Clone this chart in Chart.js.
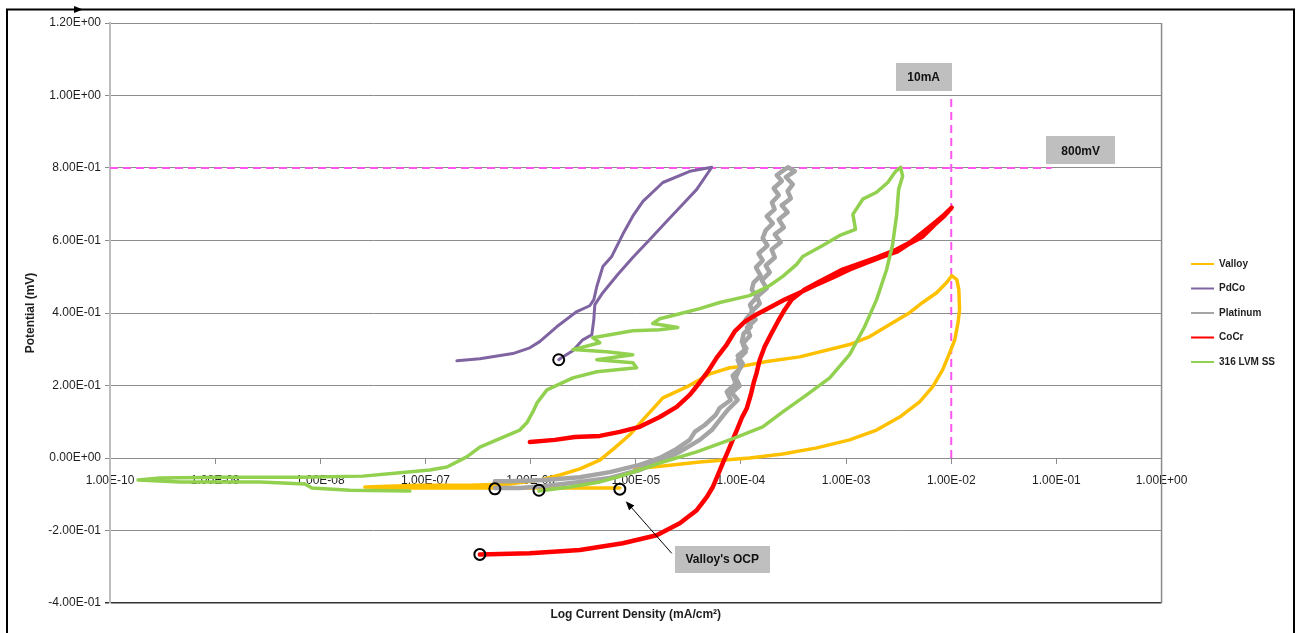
<!DOCTYPE html>
<html>
<head>
<meta charset="utf-8">
<script src="https://cdn.jsdelivr.net/npm/chart.js@4.4.1/dist/chart.umd.min.js"></script>
<style>
  html, body { margin: 0; padding: 0; background: #fff; }
  #wrap { width: 1300px; height: 633px; position: relative; }
</style>
</head>
<body>
<div id="wrap"><canvas id="c" width="1300" height="633"></canvas></div>
<script>
// ---- Series names and tick labels ----
const seriesNames = ['Valloy', 'PdCo', 'Platinum', 'CoCr', '316 LVM SS'];
const xTickValues = [1e-10, 1e-9, 1e-8, 1e-7, 1e-6, 1e-5, 1e-4, 1e-3, 1e-2, 1e-1, 1];
const xTickLabels = ['1.00E-10', '1.00E-09', '1.00E-08', '1.00E-07', '1.00E-06', '1.00E-05',
                     '1.00E-04', '1.00E-03', '1.00E-02', '1.00E-01', '1.00E+00'];
const yTickLabels = ['-4.00E-01', '-2.00E-01', '0.00E+00', '2.00E-01', '4.00E-01',
                     '6.00E-01', '8.00E-01', '1.00E+00', '1.20E+00'];

// ---- Polarization scans: current density (mA/cm2) and potential ----
const valloyCurrent = [7.05e-6, 1.90e-6, 5.1e-7, 1.37e-7, 5.7e-8, 2.65e-8, 8.85e-8, 2.64e-7, 6.34e-7, 1.22e-6,
  1.90e-6, 2.94e-6, 4.55e-6, 6.31e-6, 8.77e-6, 1.17e-5, 1.81e-5, 3.05e-5, 5.05e-5, 7.83e-5,
  9.74e-5, 1.76e-4, 3.62e-4, 1.08e-3, 1.68e-3, 2.77e-3, 4.02e-3, 5.35e-3, 7.26e-3, 9.04e-3,
  1.01e-2, 1.13e-2, 1.18e-2, 1.20e-2, 1.16e-2, 1.08e-2, 9.66e-3, 8.28e-3, 6.65e-3, 5.0e-3,
  3.23e-3, 1.95e-3, 1.08e-3, 5.25e-4, 2.50e-4, 1.21e-4, 4.06e-5, 1.81e-5, 9.78e-6];
const valloyPotential = [-0.083, -0.083, -0.083, -0.083, -0.083, -0.080, -0.075, -0.075, -0.072, -0.061,
  -0.047, -0.030, -0.006, 0.028, 0.064, 0.105, 0.166, 0.196, 0.232, 0.249,
  0.252, 0.266, 0.279, 0.313, 0.335, 0.373, 0.401, 0.429, 0.456, 0.484,
  0.503, 0.492, 0.465, 0.409, 0.373, 0.326, 0.290, 0.243, 0.196, 0.155,
  0.113, 0.077, 0.050, 0.028, 0.011, 0.000, -0.011, -0.022, -0.030];

const pdcoCurrent = [1.85e-6, 1.98e-6, 2.52e-6, 3.13e-6, 3.82e-6, 3.99e-6, 4.08e-6, 4.86e-6, 6.74e-6, 9.36e-6,
  1.36e-5, 1.97e-5, 2.80e-5, 3.80e-5, 5.28e-5, 3.26e-5, 1.81e-5, 1.17e-5, 9.36e-6, 7.52e-6,
  5.91e-6, 4.86e-6, 4.26e-6, 3.99e-6, 3.65e-6, 2.75e-6, 1.77e-6, 1.22e-6, 9.83e-7, 6.77e-7,
  3.29e-7, 1.99e-7];
const pdcoPotential = [0.271, 0.277, 0.296, 0.326, 0.340, 0.382, 0.423, 0.456, 0.506, 0.553,
  0.603, 0.653, 0.700, 0.741, 0.802, 0.791, 0.760, 0.708, 0.667, 0.617,
  0.556, 0.528, 0.473, 0.437, 0.420, 0.404, 0.362, 0.321, 0.304, 0.288,
  0.274, 0.268];

const platinumCurrent = [4.57e-7, 7.89e-7, 1.36e-6, 2.94e-6, 5.66e-6, 1.09e-5, 1.69e-5, 2.62e-5, 4.06e-5, 5.28e-5,
  6.29e-5, 7.49e-5,
  9.32e-5, 8.18e-5, 9.74e-5, 8.93e-5, 9.53e-5, 1.04e-4, 9.32e-5, 1.13e-4, 1.02e-4, 1.06e-4,
  1.24e-4, 1.11e-4, 1.29e-4, 1.22e-4, 1.41e-4, 1.27e-4, 1.32e-4, 1.54e-4, 1.39e-4, 1.61e-4,
  1.47e-4, 1.79e-4, 1.61e-4, 1.72e-4, 2.01e-4, 1.76e-4, 2.09e-4, 1.97e-4, 2.29e-4, 2.05e-4,
  2.45e-4, 2.19e-4, 2.55e-4, 2.80e-4,
  2.78e-4, 3.25e-4, 2.67e-4, 3.11e-4, 2.78e-4, 2.98e-4, 2.44e-4, 2.78e-4, 2.29e-4, 2.56e-4,
  2.10e-4, 2.39e-4, 1.96e-4, 2.10e-4, 1.72e-4, 1.88e-4, 1.58e-4, 1.76e-4, 1.42e-4, 1.51e-4,
  1.26e-4, 1.38e-4, 1.14e-4, 1.22e-4, 1.04e-4, 1.11e-4, 9.32e-5, 9.95e-5, 8.35e-5, 8.92e-5,
  7.33e-5, 8.00e-5, 6.29e-5, 5.76e-5,
  4.53e-5, 3.64e-5, 3.26e-5, 2.35e-5, 1.69e-5, 1.09e-5, 5.66e-6, 2.94e-6, 1.36e-6, 6.34e-7,
  4.57e-7];
const platinumPotential = [-0.083, -0.083, -0.077, -0.066, -0.055, -0.033, -0.011, 0.017, 0.050, 0.077,
  0.105, 0.133,
  0.160, 0.180, 0.199, 0.221, 0.241, 0.260, 0.282, 0.302, 0.321, 0.343,
  0.362, 0.382, 0.404, 0.423, 0.443, 0.465, 0.484, 0.503, 0.526, 0.545,
  0.564, 0.586, 0.606, 0.628, 0.647, 0.667, 0.686, 0.705, 0.725, 0.744,
  0.764, 0.780, 0.794, 0.802,
  0.802, 0.791, 0.775, 0.755, 0.736, 0.716, 0.697, 0.678, 0.658, 0.636,
  0.617, 0.595, 0.575, 0.553, 0.531, 0.512, 0.490, 0.468, 0.445, 0.426,
  0.404, 0.382, 0.360, 0.337, 0.315, 0.293, 0.271, 0.249, 0.227, 0.205,
  0.183, 0.160, 0.138, 0.119,
  0.091, 0.072, 0.050, 0.022, 0.000, -0.019, -0.039, -0.053, -0.061, -0.064,
  -0.064];

const cocrCurrent = [3.29e-7, 9.83e-7, 2.94e-6, 7.52e-6, 1.58e-5, 2.62e-5, 3.80e-5, 4.73e-5, 5.40e-5, 6.03e-5,
  6.72e-5, 7.49e-5, 8.35e-5, 9.33e-5, 1.02e-4, 1.14e-4, 1.24e-4, 1.32e-4, 1.41e-4, 1.51e-4,
  1.68e-4, 1.92e-4, 2.24e-4, 2.61e-4, 3.04e-4, 4.04e-4, 5.61e-4, 9.29e-4, 1.95e-3, 3.03e-3,
  4.02e-3, 5.35e-3, 7.26e-3, 8.66e-3, 1.01e-2,
  8.66e-3, 6.95e-3, 5.35e-3, 4.02e-3, 3.03e-3, 2.09e-3, 1.57e-3, 1.08e-3, 7.46e-4, 5.03e-4,
  3.62e-4, 2.61e-4, 1.88e-4, 1.35e-4, 1.09e-4, 8.73e-5, 7.33e-5, 5.89e-5, 4.84e-5, 3.89e-5,
  3.26e-5, 2.45e-5, 1.69e-5, 1.09e-5, 7.05e-6, 4.55e-6, 2.63e-6, 1.70e-6, 9.83e-7];
const cocrPotential = [-0.266, -0.263, -0.254, -0.235, -0.213, -0.180, -0.144, -0.108, -0.080, -0.047,
  -0.014, 0.017, 0.050, 0.083, 0.111, 0.138, 0.174, 0.207, 0.235, 0.271,
  0.307, 0.340, 0.376, 0.409, 0.437, 0.465, 0.487, 0.520, 0.553, 0.575,
  0.594, 0.622, 0.653, 0.672, 0.691,
  0.669, 0.644, 0.611, 0.592, 0.569, 0.553, 0.539, 0.520, 0.498, 0.476,
  0.456, 0.437, 0.415, 0.393, 0.376, 0.349, 0.313, 0.277, 0.238, 0.202,
  0.174, 0.141, 0.113, 0.086, 0.072, 0.061, 0.058, 0.050, 0.044];

const lvmCurrent = [1.20e-6, 2.36e-6, 4.55e-6, 6.59e-6, 1.09e-5, 1.81e-5, 3.80e-5, 7.83e-5, 1.61e-4, 2.50e-4,
  4.22e-4, 6.99e-4, 1.08e-3, 1.50e-3, 1.95e-3, 2.43e-3, 2.77e-3, 3.03e-3, 3.16e-3, 3.45e-3, 3.30e-3,
  2.96e-3, 2.49e-3, 1.95e-3, 1.44e-3, 1.16e-3, 1.23e-3, 8.70e-4, 5.99e-4, 3.87e-4, 3.39e-4,
  2.50e-4, 1.88e-4, 1.21e-4, 6.29e-5, 4.06e-5, 2.62e-5, 1.69e-5, 1.45e-5, 2.51e-5, 1.69e-5,
  9.36e-6, 5.66e-6, 3.90e-6, 4.55e-6, 2.52e-6, 5.30e-6, 9.36e-6, 4.26e-6, 9.36e-6, 1.02e-5,
  4.26e-6, 2.52e-6, 1.43e-6, 1.15e-6, 1.05e-6, 9.2e-7, 7.89e-7, 4.77e-7, 3.29e-7, 2.47e-7,
  1.60e-7, 1.10e-7, 5.71e-8, 2.54e-8, 6.40e-9, 1.11e-9, 2.99e-10, 1.85e-10, 4.63e-10, 2.67e-9,
  7.14e-9, 8.32e-9, 1.91e-8, 7.11e-8];
const lvmPotential = [-0.091, -0.080, -0.066, -0.053, -0.033, -0.011, 0.017, 0.050, 0.086, 0.127,
  0.174, 0.221, 0.285, 0.362, 0.437, 0.520, 0.589, 0.672, 0.741, 0.777, 0.802,
  0.791, 0.760, 0.733, 0.714, 0.672, 0.631, 0.614, 0.586, 0.556, 0.534,
  0.501, 0.476, 0.448, 0.429, 0.412, 0.398, 0.384, 0.371, 0.360, 0.354,
  0.351, 0.340, 0.332, 0.318, 0.299, 0.293, 0.285, 0.271, 0.263, 0.249,
  0.238, 0.221, 0.188, 0.152, 0.127, 0.097, 0.077, 0.050, 0.030, 0.003,
  -0.025, -0.033, -0.041, -0.050, -0.053, -0.053, -0.055, -0.061, -0.066, -0.066,
  -0.072, -0.083, -0.089, -0.091];

// Open-circuit potential of each scan (circled)
const ocpCurrent = [1.85e-6, 4.57e-7, 1.20e-6, 7.05e-6, 3.29e-7];
const ocpPotential = [0.271, -0.085, -0.089, -0.086, -0.266];

// Reference limits: 800 mV and 10 mA
const limitECurrent = [1e-10, 9e-2];
const limitEPotential = [0.8, 0.8];
const limitICurrent = [1e-2, 1e-2];
const limitIPotential = [0.0, 1.0];

const noteLabels = ['10mA', '800mV', "Valloy's OCP"];

// ---- Drawing setup ----
const FONT = '"Liberation Sans", Arial, sans-serif';
const TEXT = '#1e1e1e';
const PLOT_RIGHT = 1162;

function pts(xs, ys) { return xs.map((x, i) => ({ x: x, y: ys[i] })); }

function curve(i, xs, ys, color, width, order) {
  return {
    label: seriesNames[i], data: pts(xs, ys), showLine: true,
    borderColor: color, backgroundColor: color, borderWidth: width,
    pointRadius: 0, pointHoverRadius: 0, tension: 0, fill: false,
    borderJoinStyle: 'round', borderCapStyle: 'round', order: order
  };
}

const datasets = [
  curve(0, valloyCurrent, valloyPotential, '#FFC000', 3.5, 5),
  curve(1, pdcoCurrent, pdcoPotential, '#8064A2', 3, 4),
  curve(2, platinumCurrent, platinumPotential, '#A5A5A5', 4.5, 3),
  curve(3, cocrCurrent, cocrPotential, '#FF0000', 4.5, 2),
  curve(4, lvmCurrent, lvmPotential, '#92D050', 3.5, 1),
  {
    label: 'OCP', data: pts(ocpCurrent, ocpPotential), showLine: false,
    pointStyle: 'circle', pointRadius: 5.5, pointHoverRadius: 5.5, pointBorderWidth: 2,
    pointBorderColor: '#000', pointBackgroundColor: 'rgba(0,0,0,0)', order: 0
  },
  {
    label: '800mV', data: pts(limitECurrent, limitEPotential), showLine: true,
    borderColor: '#FF55EE', borderWidth: 2, borderDash: [8, 5], pointRadius: 0, order: 10
  },
  {
    label: '10mA', data: pts(limitICurrent, limitIPotential), showLine: true,
    borderColor: '#FF55EE', borderWidth: 2, borderDash: [8, 5], pointRadius: 0, order: 10
  }
];

// Callout boxes and the arrow to Valloy's open-circuit point
const calloutPlugin = {
  id: 'callouts',
  afterDatasetsDraw(chart, args, opts) {
    const { ctx } = chart;
    const xs = chart.scales.x, ys = chart.scales.y;
    ctx.save();
    const a = opts.arrow;
    const x0 = xs.getPixelForValue(a.from[0]), y0 = ys.getPixelForValue(a.from[1]);
    const x1 = xs.getPixelForValue(a.to[0]), y1 = ys.getPixelForValue(a.to[1]);
    const ang = Math.atan2(y1 - y0, x1 - x0);
    ctx.strokeStyle = '#000'; ctx.fillStyle = '#000'; ctx.lineWidth = 1;
    ctx.beginPath(); ctx.moveTo(x0, y0);
    ctx.lineTo(x1 - 6 * Math.cos(ang), y1 - 6 * Math.sin(ang)); ctx.stroke();
    ctx.beginPath();
    ctx.moveTo(x1, y1);
    ctx.lineTo(x1 - 9 * Math.cos(ang) + 3.5 * Math.sin(ang), y1 - 9 * Math.sin(ang) - 3.5 * Math.cos(ang));
    ctx.lineTo(x1 - 9 * Math.cos(ang) - 3.5 * Math.sin(ang), y1 - 9 * Math.sin(ang) + 3.5 * Math.cos(ang));
    ctx.closePath(); ctx.fill();

    ctx.font = 'bold 12px ' + FONT;
    ctx.textAlign = 'center'; ctx.textBaseline = 'middle';
    opts.boxes.forEach((b, i) => {
      const cx = xs.getPixelForValue(b.at[0]), cy = ys.getPixelForValue(b.at[1]);
      ctx.fillStyle = '#BFBFBF';
      ctx.fillRect(Math.round(cx - b.w / 2), Math.round(cy - b.h / 2), b.w, b.h);
      ctx.fillStyle = '#111';
      ctx.fillText(noteLabels[i], cx, cy + 1);
    });
    ctx.restore();
  }
};

// Sheet frame, plot right edge and legend offset
const framePlugin = {
  id: 'frame',
  afterLayout(chart) {
    if (chart.legend) { chart.legend.left += 15; chart.legend.right += 15; }
  },
  beforeDraw(chart) {
    const { ctx } = chart;
    ctx.save();
    ctx.fillStyle = '#fff';
    ctx.fillRect(0, 0, chart.width, chart.height);
    ctx.restore();
  },
  afterDraw(chart) {
    const { ctx, chartArea } = chart;
    ctx.save();
    ctx.strokeStyle = '#8C8C8C'; ctx.lineWidth = 1.5;
    ctx.beginPath();
    ctx.moveTo(chartArea.right, chartArea.top); ctx.lineTo(chartArea.right, chartArea.bottom);
    ctx.stroke();
    ctx.strokeStyle = '#000'; ctx.lineWidth = 2;
    ctx.beginPath();
    ctx.moveTo(7, 633); ctx.lineTo(7, 9.5); ctx.lineTo(1294, 9.5); ctx.lineTo(1294, 633);
    ctx.stroke();
    ctx.fillStyle = '#000';
    ctx.beginPath();
    ctx.moveTo(83, 9.5); ctx.lineTo(74, 6); ctx.lineTo(74, 13); ctx.closePath(); ctx.fill();
    ctx.restore();
  }
};

const legendLabels = Chart.defaults.plugins.legend.labels.generateLabels;

const chart = new Chart(document.getElementById('c'), {
  type: 'scatter',
  data: { datasets: datasets },
  plugins: [framePlugin, calloutPlugin],
  options: {
    responsive: false,
    animation: false,
    devicePixelRatio: 1,
    layout: { padding: { left: 0, top: 23, right: 30, bottom: 0 } },
    interaction: { mode: null },
    scales: {
      x: {
        type: 'logarithmic',
        min: 1e-10, max: 1,
        position: { y: 0 },
        afterBuildTicks: (s) => { s.ticks = xTickValues.map(v => ({ value: v })); },
        ticks: {
          autoSkip: false, maxRotation: 0, padding: 10, color: TEXT,
          font: { family: FONT, size: 12 },
          callback: (v, i) => xTickLabels[i]
        },
        grid: { drawOnChartArea: false, drawTicks: true, tickLength: 5, color: '#8C8C8C' },
        border: { display: true, color: '#8C8C8C', width: 1 }
      },
      y: {
        type: 'linear',
        min: -0.4, max: 1.2,
        afterFit: (s) => { s.width = 110; },
        ticks: {
          stepSize: 0.2, padding: 4, color: TEXT,
          font: { family: FONT, size: 12 },
          callback: (v, i) => yTickLabels[i]
        },
        grid: {
          drawTicks: true, tickLength: 5,
          color: (c) => (c.tick && Math.abs(c.tick.value + 0.4) < 1e-6) ? '#333' : '#8C8C8C',
          lineWidth: (c) => (c.tick && Math.abs(c.tick.value + 0.4) < 1e-6) ? 1.5 : 1
        },
        border: { display: true, color: '#BDBDBD', width: 2 },
        title: {
          display: true, text: 'Potential (mV)', color: TEXT,
          font: { family: FONT, size: 12, weight: 'bold' },
          padding: { top: 23, bottom: 0 }
        }
      }
    },
    plugins: {
      tooltip: { enabled: false },
      title: {
        display: true, text: 'Log Current Density (mA/cm²)', position: 'bottom',
        fullSize: false, color: TEXT,
        font: { family: FONT, size: 12, weight: 'bold' },
        padding: { top: 4, bottom: 11.6 }
      },
      legend: {
        position: 'right',
        align: 'center',
        fullSize: false,
        labels: {
          usePointStyle: true, pointStyle: 'line', pointStyleWidth: 23,
          padding: 14.5, color: TEXT,
          font: { family: FONT, size: 10, weight: 'bold' },
          filter: (item) => item.datasetIndex < seriesNames.length,
          sort: (a, b) => a.datasetIndex - b.datasetIndex,
          generateLabels: (c) => legendLabels(c).map(l => Object.assign(l, { lineWidth: 2 }))
        }
      },
      callouts: {
        boxes: [
          { at: [5.47e-3, 1.051], w: 56, h: 28 },
          { at: [0.170, 0.849], w: 69, h: 28 },
          { at: [6.64e-5, -0.279], w: 95, h: 27 }
        ],
        arrow: { from: [2.20e-5, -0.263], to: [8.03e-6, -0.119] }
      }
    }
  }
});

// keep the plot's right edge fixed regardless of the legend's measured width
const drift = chart.chartArea.right - PLOT_RIGHT;
if (Math.abs(drift) > 0.5) {
  chart.options.layout.padding.right += drift;
  chart.update('none');
}
</script>
</body>
</html>
